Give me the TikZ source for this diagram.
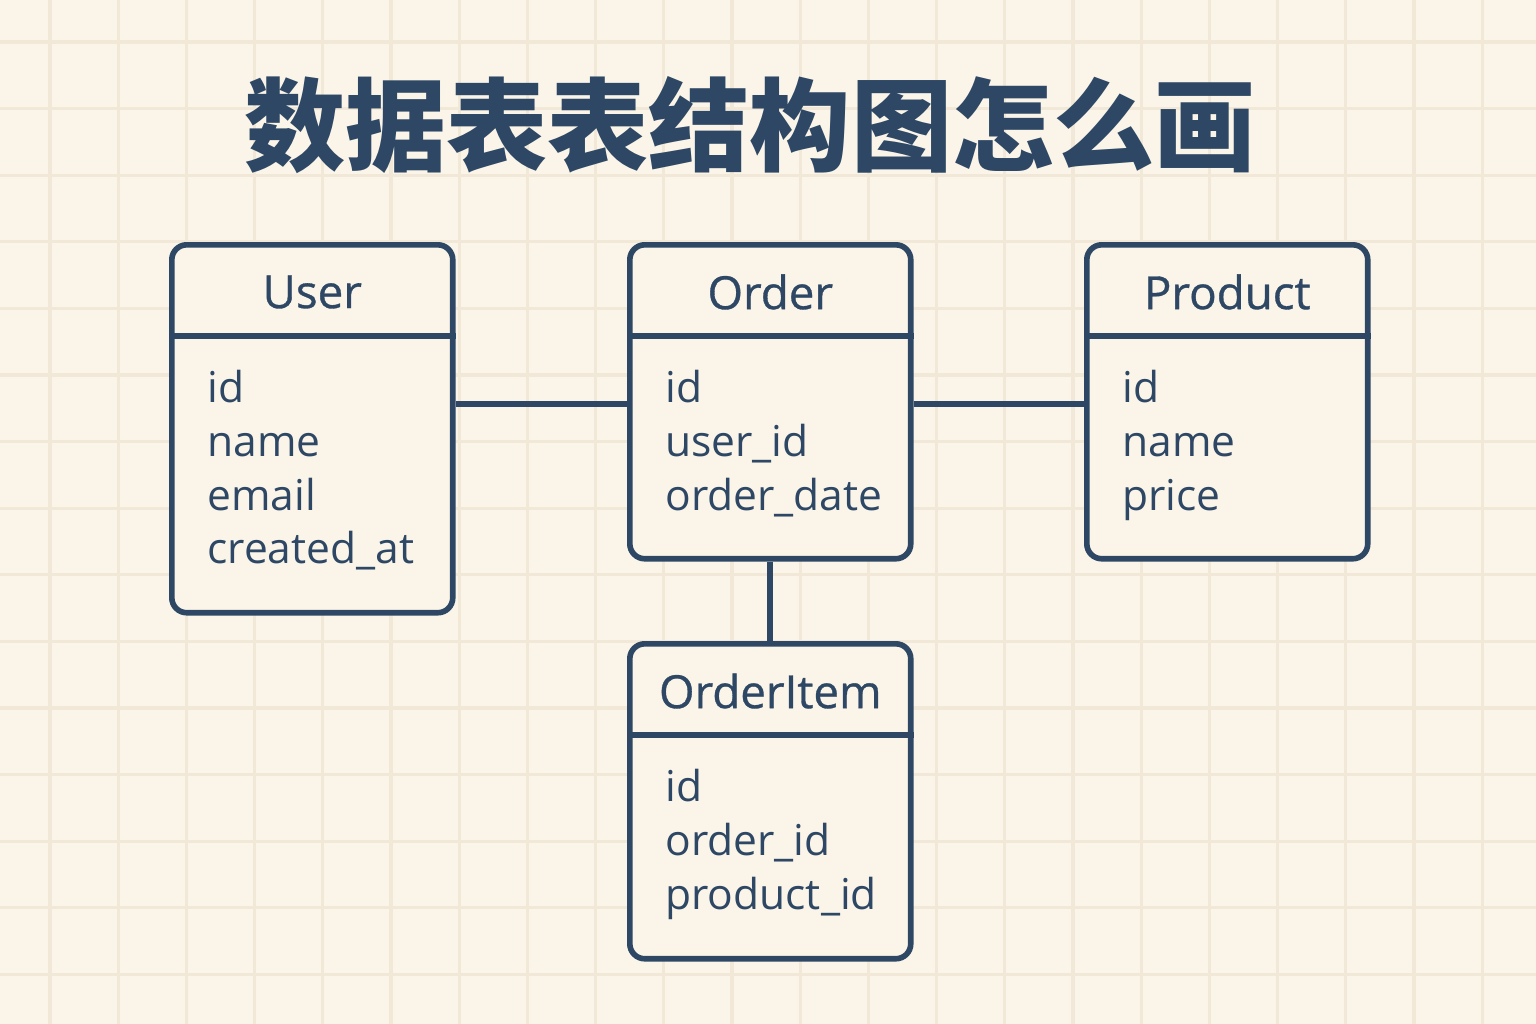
\documentclass[tikz,border=0pt]{standalone}
\usepackage{fontspec}
\setmainfont{Open Sans}
\newfontfamily\headfont[FakeBold=0.7]{Open Sans}
\newfontfamily\cjk{Noto Sans CJK SC}
\usetikzlibrary{positioning}
\definecolor{navy}{HTML}{2D4764}
\definecolor{paper}{HTML}{FBF5E9}
\definecolor{gridc}{HTML}{F1E8D8}
\tikzset{
  gridline/.style={draw=gridc, line width=1.8pt},
  tablebox/.style={draw=navy, line width=3.2pt, rounded corners=8.5pt, fill=paper,
    minimum width=5.62cm, inner sep=0pt, anchor=north west},
  tableline/.style={draw=navy, line width=3.2pt},
  link/.style={draw=navy, line width=3.2pt},
  headtext/.style={text=navy, font=\headfont\fontsize{26pt}{30pt}\selectfont, inner sep=0pt},
  fieldtext/.style={text=navy, font=\fontsize{24.2pt}{30.6pt}\selectfont, align=left,
    inner sep=0pt, anchor=north west}
}
\begin{document}
\begin{tikzpicture}[x=0.02cm, y=-0.02cm]
\fill[paper] (0,0) rectangle (1536,1024);
\useasboundingbox (0,0) rectangle (1536,1024);
% grid
\foreach \k in {0,...,21}
  \draw[gridline] ({50+68.2*\k},0) -- ++(0,1024);
\foreach \k in {0,...,14}
  \draw[gridline] (0,{42+66.6*\k}) -- ++(1536,0);
% title
\node[text=navy, font=\cjk\bfseries\fontsize{57.6pt}{60pt}\selectfont] (title) at (750,125) {数据表表结构图怎么画};
% tables
\node[tablebox, minimum height=7.36cm] (user) at (169,242) {};
\node[tablebox, minimum height=6.28cm] (order) at (627,242) {};
\node[tablebox, minimum height=6.28cm] (product) at (1084,242) {};
\node[tablebox, minimum height=6.30cm] (item) at (627,641) {};
\foreach \t/\h in {user/User, order/Order, product/Product, item/OrderItem} {
  \draw[tableline] ([yshift=-1.88cm]\t.north west) -- ([yshift=-1.88cm]\t.north east);
  \node[headtext] (\t head) at ([yshift=-1.0cm]\t.north) {\h};
}
\node[fieldtext] (userfields) at ([xshift=0.76cm, yshift=-2.56cm]user.north west)
  {id\\name\\email\\created\_at};
\node[fieldtext] (orderfields) at ([xshift=0.76cm, yshift=-2.56cm]order.north west)
  {id\\user\_id\\order\_date};
\node[fieldtext] (productfields) at ([xshift=0.76cm, yshift=-2.56cm]product.north west)
  {id\\name\\price};
\node[fieldtext] (itemfields) at ([xshift=0.76cm, yshift=-2.56cm]item.north west)
  {id\\order\_id\\product\_id};
% links
\coordinate (linky) at (0,404);
\draw[link] (user.east |- linky) -- (order.west |- linky);
\draw[link] (order.east |- linky) -- (product.west |- linky);
\draw[link] (order.south) -- (item.north);
\end{tikzpicture}
\end{document}
